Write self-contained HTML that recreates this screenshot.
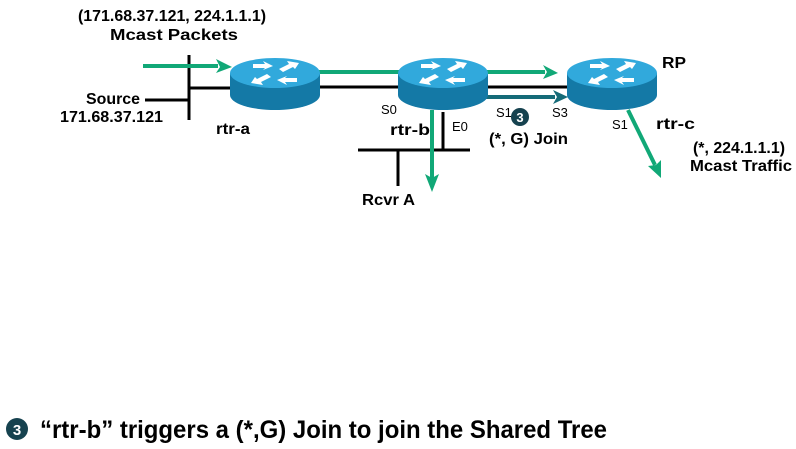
<!DOCTYPE html>
<html><head><style>
body{margin:0;background:#fff;width:796px;height:444px;overflow:hidden;font-family:"Liberation Sans",Arial,sans-serif;}
</style></head><body>
<svg width="796" height="444" viewBox="0 0 796 444" xmlns="http://www.w3.org/2000/svg" font-family="Liberation Sans, Arial, sans-serif" font-weight="bold">
<defs>
<g id="rtr">
<path d="M-45,0 L-45,22 A45,15 0 0 0 45,22 L45,0 Z" fill="#1479a6"/>
<ellipse cx="0" cy="0" rx="45" ry="15" fill="#31a9dc"/>
<g fill="#fff">
<polygon points="-22,-9 -10,-9 -12,-12 -2,-7 -12,-3 -10,-5 -22,-5"/>
<polygon points="22,9 10,9 12,12 2,7 12,3 10,5 22,5"/>
<polygon points="4,-4 14,-9 12,-12 24,-10 20,-4 18,-6 8,-1"/>
<polygon points="-4,4 -14,9 -12,12 -24,10 -20,4 -18,6 -8,1"/>
</g>
</g>
</defs>
<line x1="189" y1="55" x2="189" y2="120" stroke="#000" stroke-width="3"/>
<line x1="145" y1="100" x2="189" y2="100" stroke="#000" stroke-width="3"/>
<line x1="189" y1="88" x2="240" y2="88" stroke="#000" stroke-width="3"/>
<line x1="143" y1="66" x2="218" y2="66" stroke="#11a877" stroke-width="4"/>
<polygon points="216,59 232,67 216,73 220,67" fill="#11a877"/>
<line x1="310" y1="72" x2="410" y2="72" stroke="#11a877" stroke-width="4"/>
<line x1="310" y1="87" x2="410" y2="87" stroke="#000" stroke-width="3"/>
<line x1="480" y1="72" x2="545" y2="72" stroke="#11a877" stroke-width="4"/>
<polygon points="543,65 558,73 543,79 547,72" fill="#11a877"/>
<line x1="480" y1="87" x2="580" y2="87" stroke="#000" stroke-width="3"/>
<line x1="480" y1="97" x2="555" y2="97" stroke="#156b78" stroke-width="4"/>
<polygon points="553,90 568,97 553,104 557,97" fill="#156b78"/>
<line x1="358" y1="150" x2="470" y2="150" stroke="#000" stroke-width="3"/>
<line x1="398" y1="150" x2="398" y2="186" stroke="#000" stroke-width="3"/>
<line x1="443" y1="112" x2="443" y2="150" stroke="#000" stroke-width="3"/>
<line x1="432" y1="110" x2="432" y2="178" stroke="#11a877" stroke-width="4"/>
<polygon points="425,174 432,192 439,174 432,178" fill="#11a877"/>
<line x1="628" y1="110" x2="655" y2="165" stroke="#11a877" stroke-width="4"/>
<polygon points="648,166 661,178 661,160 656,165" fill="#11a877"/>
<use href="#rtr" x="275" y="73"/>
<use href="#rtr" x="443" y="73"/>
<use href="#rtr" x="612" y="73"/>
<g font-size="16" fill="#000">
<text x="78" y="21" textLength="188" lengthAdjust="spacingAndGlyphs">(171.68.37.121,  224.1.1.1)</text>
<text x="110" y="40" textLength="128" lengthAdjust="spacingAndGlyphs">Mcast Packets</text>
<text x="86" y="104" textLength="54" lengthAdjust="spacingAndGlyphs">Source</text>
<text x="60" y="122" textLength="103" lengthAdjust="spacingAndGlyphs">171.68.37.121</text>
<text x="216" y="134" textLength="34" lengthAdjust="spacingAndGlyphs">rtr-a</text>
<text x="381" y="114" font-weight="normal" font-size="13">S0</text>
<text x="390" y="135" textLength="40" lengthAdjust="spacingAndGlyphs">rtr-b</text>
<text x="452" y="131" font-weight="normal" font-size="13">E0</text>
<text x="496" y="117" font-weight="normal" font-size="13">S1</text>
<text x="552" y="117" font-weight="normal" font-size="13">S3</text>
<text x="489" y="144" textLength="79" lengthAdjust="spacingAndGlyphs">(*, G) Join</text>
<text x="362" y="205" textLength="53" lengthAdjust="spacingAndGlyphs">Rcvr A</text>
<text x="662" y="68" textLength="24" lengthAdjust="spacingAndGlyphs">RP</text>
<text x="612" y="129" font-weight="normal" font-size="13">S1</text>
<text x="656" y="129" textLength="39" lengthAdjust="spacingAndGlyphs">rtr-c</text>
<text x="693" y="153" textLength="92" lengthAdjust="spacingAndGlyphs">(*, 224.1.1.1)</text>
<text x="690" y="171" textLength="102" lengthAdjust="spacingAndGlyphs">Mcast Traffic</text>
</g>
<circle cx="520" cy="117" r="9" fill="#16424f"/>
<text x="520" y="122" text-anchor="middle" fill="#fff" font-size="13">3</text>
<circle cx="17" cy="429" r="11" fill="#16424f"/>
<text x="17" y="435" text-anchor="middle" fill="#fff" font-size="15">3</text>
<text x="40" y="438" font-size="25" fill="#000" textLength="567" lengthAdjust="spacingAndGlyphs">“rtr-b” triggers a (*,G) Join to join the Shared Tree</text>
</svg>
</body></html>
